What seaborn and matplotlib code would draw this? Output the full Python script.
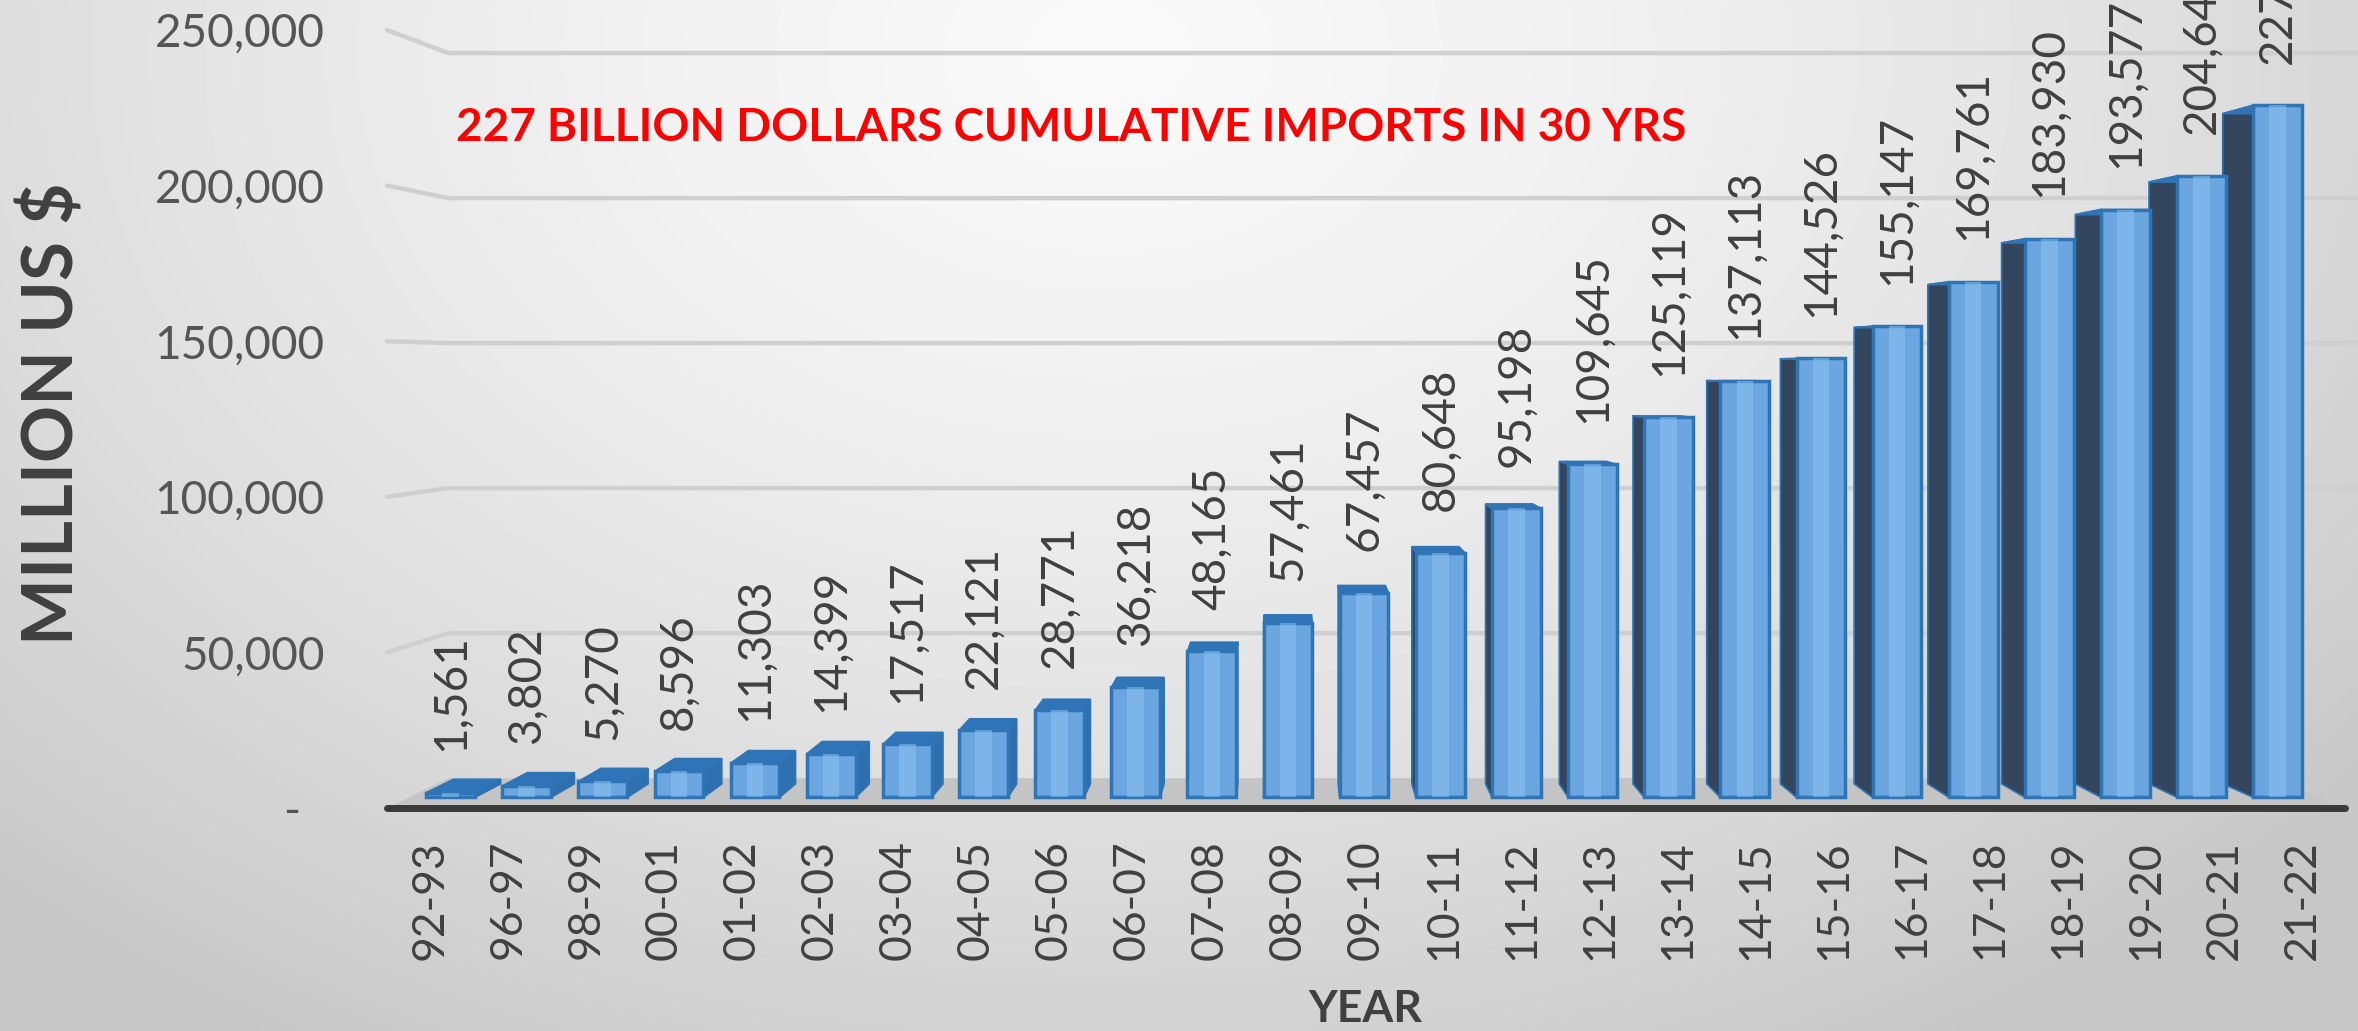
import numpy as np
import pandas as pd
import matplotlib
matplotlib.use("Agg")
import matplotlib.pyplot as plt
import seaborn as sns
from matplotlib.patches import Polygon
from matplotlib.transforms import Affine2D

# ---- data -------------------------------------------------------------
years = ["92-93", "96-97", "98-99", "00-01", "01-02", "02-03", "03-04",
         "04-05", "05-06", "06-07", "07-08", "08-09", "09-10", "10-11",
         "11-12", "12-13", "13-14", "14-15", "15-16", "16-17", "17-18",
         "18-19", "19-20", "20-21", "21-22"]
imports_musd = [1561, 3802, 5270, 8596, 11303, 14399, 17517, 22121, 28771,
                36218, 48165, 57461, 67457, 80648, 95198, 109645, 125119,
                137113, 144526, 155147, 169761, 183930, 193577, 204645,
                227900]
y_ticks = [0, 50000, 100000, 150000, 200000, 250000]
y_tick_labels = ["-  ", "50,000", "100,000", "150,000", "200,000", "250,000"]
title_text = "227 BILLION DOLLARS CUMULATIVE IMPORTS IN 30 YRS"
y_label = "MILLION US $"
x_label = "YEAR"

# ---- style ------------------------------------------------------------
sns.set_style("white")
plt.rcParams["font.family"] = ["Lato", "DejaVu Sans"]

FRONT = "#6ba6e0"
HIGHLIGHT = "#8cc1f1"
EDGE = "#2f75b5"
SIDE_LIGHT = "#2e6fb0"
SIDE_DARK = "#33465e"
TOP = "#2f74b8"
GRID = "#cfcfcf"
TEXT = "#404040"

W, H = 2358, 1031
fig = plt.figure(figsize=(W / 100, H / 100), dpi=100)

# soft radial backdrop
bg = fig.add_axes([0, 0, 1, 1], zorder=-10)
gx, gy = np.meshgrid(np.linspace(0, 1, 480), np.linspace(0, 1, 220))
dist = np.sqrt(((gx - 0.47) / 0.62) ** 2 + ((gy - 0.05) / 1.0) ** 2)
shade = np.clip(0.975 - 0.165 * dist ** 1.5, 0.78, 1.0)
bg.imshow(shade, cmap="gray", vmin=0, vmax=1, aspect="auto",
          extent=[0, 1, 1, 0], interpolation="bicubic")
bg.set_axis_off()

# ---- main axes (front plane of the 3-D box) ---------------------------
X_LEFT, X_RIGHT = -0.55, 24.55
ax = fig.add_axes([387 / W, (H - 808) / H, (2345 - 387) / W, (808 - 30) / H])
ax.patch.set_alpha(0)

# perspective: depth planes are scaled toward a vanishing point
XQ, VQ = 11.0, 141000.0
S_BAR_FRONT, S_BAR_BACK, S_WALL = 0.976, 0.945, 0.932


def depth(x, y, s):
    return XQ + s * (x - XQ), VQ + s * (y - VQ)


def depth_transform(s):
    return Affine2D().translate(-XQ, -VQ).scale(s).translate(XQ, VQ) + ax.transData


df = pd.DataFrame({"year": years, "imports": imports_musd})
sns.barplot(data=df, x="year", y="imports", ax=ax, color=FRONT,
            saturation=1, width=0.64, edgecolor=EDGE, linewidth=2.5,
            zorder=4)
ax.set_xlim(X_LEFT, X_RIGHT)
ax.set_ylim(0, 250000)

# floor surface behind the bars
fl = [depth(X_LEFT, 0, 1.0), depth(X_RIGHT, 0, 1.0),
      depth(X_RIGHT, 0, S_WALL), depth(X_LEFT, 0, S_WALL)]
ax.add_patch(Polygon(fl, closed=True, facecolor="#c4c4c4", edgecolor="none",
                     zorder=1, clip_on=False))

# back-wall and side-wall gridlines
for v in y_ticks[1:]:
    pts = [depth(X_LEFT, v, 1.0), depth(X_LEFT, v, S_WALL), depth(26.5, v, S_WALL)]
    ax.plot([p[0] for p in pts], [p[1] for p in pts], color=GRID, lw=3.2,
            zorder=0.5, clip_on=False, solid_capstyle="round")

# bar sides, tops and value labels
for patch, v in zip(ax.patches, imports_musd):
    x0 = patch.get_x()
    x1 = x0 + patch.get_width()
    xc = 0.5 * (x0 + x1)
    h = patch.get_height()
    patch.set_transform(depth_transform(S_BAR_FRONT))

    # lighter vertical sheen on the front face
    sw = patch.get_width() * 0.34
    sheen = Polygon([depth(xc - sw / 2, 0, S_BAR_FRONT), depth(xc + sw / 2, 0, S_BAR_FRONT),
                     depth(xc + sw / 2, h, S_BAR_FRONT), depth(xc - sw / 2, h, S_BAR_FRONT)],
                    closed=True, facecolor=HIGHLIGHT, edgecolor="none",
                    alpha=0.55, zorder=4.2, clip_on=False)
    ax.add_patch(sheen)

    if xc < XQ:
        xe, side_col = x1, SIDE_LIGHT
    else:
        xe, side_col = x0, SIDE_DARK
    side = [depth(xe, 0, S_BAR_FRONT), depth(xe, h, S_BAR_FRONT),
            depth(xe, h, S_BAR_BACK), depth(xe, 0, S_BAR_BACK)]
    ax.add_patch(Polygon(side, closed=True, facecolor=side_col, edgecolor=EDGE,
                         lw=1.2, zorder=3, clip_on=False))
    top = [depth(x0, h, S_BAR_FRONT), depth(x1, h, S_BAR_FRONT),
           depth(x1, h, S_BAR_BACK), depth(x0, h, S_BAR_BACK)]
    ax.add_patch(Polygon(top, closed=True, facecolor=TOP, edgecolor=EDGE,
                         lw=1.2, zorder=3, clip_on=False))

    lx, ly = depth(xc, h, S_BAR_FRONT)
    ax.annotate(f"{v:,}", (lx, ly), xytext=(0, 30), textcoords="offset points",
                rotation=90, ha="center", va="bottom", fontsize=33,
                color=TEXT, annotation_clip=False, zorder=6)

# front edge of the floor
ax.plot([X_LEFT, X_RIGHT], [0, 0], color="#3a3a3a", lw=5, zorder=5,
        clip_on=False, solid_capstyle="round")

# axes decoration
for sp in ax.spines.values():
    sp.set_visible(False)
ax.set_yticks(y_ticks)
ax.set_yticklabels(y_tick_labels)
ax.set_xticks(range(len(years)))
ax.set_xticklabels(years, rotation=90)
ax.tick_params(axis="y", length=0, pad=45, labelsize=33, labelcolor="#555555")
ax.tick_params(axis="x", length=0, pad=23, labelsize=32, labelcolor=TEXT)
ax.set_xlabel("")
ax.set_ylabel("")
ax.grid(False)

fig.text(1071 / W, 1 - 128 / H, title_text, ha="center", va="center",
         color="#ff0000", fontsize=33, fontweight="bold")
fig.text(52 / W, 1 - 414 / H, y_label, rotation=90, ha="center", va="center",
         color=TEXT, fontsize=51, fontweight="bold")
fig.text(1365 / W, 1 - 1009 / H, x_label, ha="center", va="center",
         color=TEXT, fontsize=32, fontweight="bold")

fig.savefig("out.png", dpi=100)
